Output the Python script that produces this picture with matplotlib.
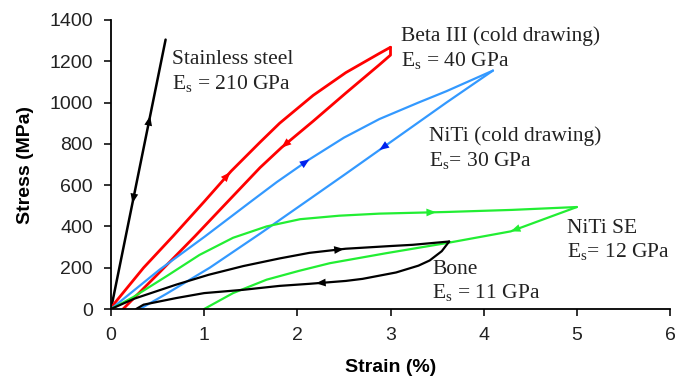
import numpy as np
import matplotlib
matplotlib.use('Agg')
import matplotlib.pyplot as plt

# stress-strain loops (strain in %, stress in MPa)
steel_strain = [0, 0.586]
steel_stress = [0, 1305]

beta_load_strain = [0, 0.04, 0.35, 0.67, 1.0, 1.29, 1.6, 1.81, 2.17, 2.52, 2.88, 3.0]
beta_load_stress = [0, 29, 200, 355, 520, 668, 808, 900, 1035, 1145, 1238, 1268]
beta_unload_strain = [3.0, 3.0, 2.88, 2.52, 2.17, 1.83, 1.6, 1.48, 1.2, 0.9, 0.5, 0.13]
beta_unload_stress = [1268, 1230, 1183, 1046, 910, 782, 685, 628, 495, 352, 168, 0]

niti_load_strain = [0, 0.52, 1.01, 1.5, 1.78, 2.13, 2.5, 2.88, 3.3, 3.6, 4.1]
niti_load_stress = [0, 190, 352, 520, 615, 725, 830, 920, 1000, 1055, 1155]
niti_unload_strain = [4.1, 3.6, 3.24, 2.88, 2.52, 2.14, 1.6, 1.06, 0.6, 0.31]
niti_unload_stress = [1155, 1000, 885, 770, 655, 535, 365, 200, 75, 0]

se_load_strain = [0, 0.24, 0.6, 0.95, 1.31, 1.67, 2.03, 2.45, 2.88, 3.6, 4.3, 5.0]
se_load_stress = [0, 58, 160, 262, 345, 400, 435, 452, 462, 470, 480, 494]
se_unload_strain = [5.0, 4.29, 3.61, 2.95, 2.35, 2.02, 1.67, 1.31, 1.0]
se_unload_stress = [494, 376, 320, 270, 222, 185, 142, 77, 0]

bone_load_strain = [0, 0.25, 0.7, 1.05, 1.42, 1.81, 2.13, 2.52, 3.0, 3.24, 3.63]
bone_load_stress = [0, 50, 118, 166, 208, 245, 272, 292, 305, 311, 327]
bone_unload_strain = [3.63, 3.55, 3.42, 3.3, 3.06, 2.7, 2.52, 2.13, 1.81, 1.42, 1.0, 0.7, 0.35, 0.27]
bone_unload_stress = [327, 280, 235, 210, 177, 146, 136, 122, 112, 93, 77, 53, 21, 0]

RED = '#ff0000'
BLUE = '#3399ff'
DBLUE = '#0022ee'
GREEN = '#22ee33'
BLACK = '#000000'

fig = plt.figure(figsize=(6.75, 3.79), dpi=100)
ax = fig.add_axes([111 / 675, 1 - 309 / 379, 559 / 675, 289 / 379])


def arrow(xs, ys, x0, color, forward=True):
    # small arrow head sitting on the curve at strain x0
    xs = np.asarray(xs, float)
    ys = np.asarray(ys, float)
    order = np.argsort(xs)
    sx, sy = xs[order], ys[order]
    d = 0.04 if forward else -0.04
    p0 = (x0 - d, np.interp(x0 - d, sx, sy))
    p1 = (x0, np.interp(x0, sx, sy))
    ax.annotate('', xy=p1, xytext=p0,
                arrowprops=dict(arrowstyle='-|>,head_length=0.7,head_width=0.28',
                                color=color, lw=0, shrinkA=0, shrinkB=0),
                annotation_clip=False)


line = dict(solid_joinstyle='round', solid_capstyle='round')
ax.plot(steel_strain, steel_stress, color=BLACK, lw=1.8, **line)
ax.plot(beta_load_strain, beta_load_stress, color=RED, lw=2, **line)
ax.plot(beta_unload_strain, beta_unload_stress, color=RED, lw=2, **line)
ax.plot(niti_load_strain, niti_load_stress, color=BLUE, lw=1.6, **line)
ax.plot(niti_unload_strain, niti_unload_stress, color=BLUE, lw=1.6, **line)
ax.plot(se_load_strain, se_load_stress, color=GREEN, lw=1.6, **line)
ax.plot(se_unload_strain, se_unload_stress, color=GREEN, lw=1.6, **line)
ax.plot(bone_load_strain, bone_load_stress, color=BLACK, lw=1.6, **line)
ax.plot(bone_unload_strain, bone_unload_stress, color=BLACK, lw=1.6, **line)

arrow(steel_strain, steel_stress, 0.42, BLACK, True)
arrow(steel_strain, steel_stress, 0.23, BLACK, False)
arrow(beta_load_strain, beta_load_stress, 1.28, RED, True)
arrow(beta_unload_strain[1:], beta_unload_stress[1:], 1.83, RED, False)
arrow(niti_load_strain, niti_load_stress, 2.13, DBLUE, True)
arrow(niti_unload_strain, niti_unload_stress, 2.88, DBLUE, False)
arrow(se_load_strain, se_load_stress, 3.49, GREEN, True)
arrow(se_unload_strain, se_unload_stress, 4.29, GREEN, False)
arrow(bone_load_strain, bone_load_stress, 2.5, BLACK, True)
arrow(bone_unload_strain, bone_unload_stress, 2.2, BLACK, False)

serif = dict(family='Liberation Serif', size=15.5, color='#222222', va='baseline')
labels = [
    (0.657, 1186, 'Stainless steel'), (0.657, 1062, 'E$_\\mathregular{s}$ = 210 GPa'),
    (3.115, 1296, 'Beta III (cold drawing)'), (3.115, 1175, 'E$_\\mathregular{s}$ = 40 GPa'),
    (3.41, 812, 'NiTi (cold drawing)'), (3.41, 691, 'E$_\\mathregular{s}$= 30 GPa'),
    (4.89, 369, 'NiTi SE'), (4.89, 248, 'E$_\\mathregular{s}$= 12 GPa'),
    (3.45, 171, 'Bone'), (3.45, 50, 'E$_\\mathregular{s}$ = 11 GPa'),
]
for x, y, s in labels:
    ax.text(x, y, s, **serif)

ax.set_xlim(0, 6)
ax.set_ylim(0, 1400)
ax.set_xticks(range(0, 7))
ax.set_yticks(range(0, 1401, 200))
for side in ['top', 'right']:
    ax.spines[side].set_visible(False)
for side in ['left', 'bottom']:
    ax.spines[side].set_linewidth(1.3)
ax.tick_params(direction='out', length=5, width=1.3, pad=8, labelsize=14, colors='#222222')
for lab in ax.get_xticklabels() + ax.get_yticklabels():
    lab.set_family('Liberation Sans')

ax.set_xlabel('Strain (%)', family='Liberation Sans', fontsize=14, fontweight='bold', labelpad=11)
ax.set_ylabel('Stress (MPa)', family='Liberation Sans', fontsize=14, fontweight='bold', labelpad=11)

fig.savefig('out.png', dpi=100, facecolor='white')
